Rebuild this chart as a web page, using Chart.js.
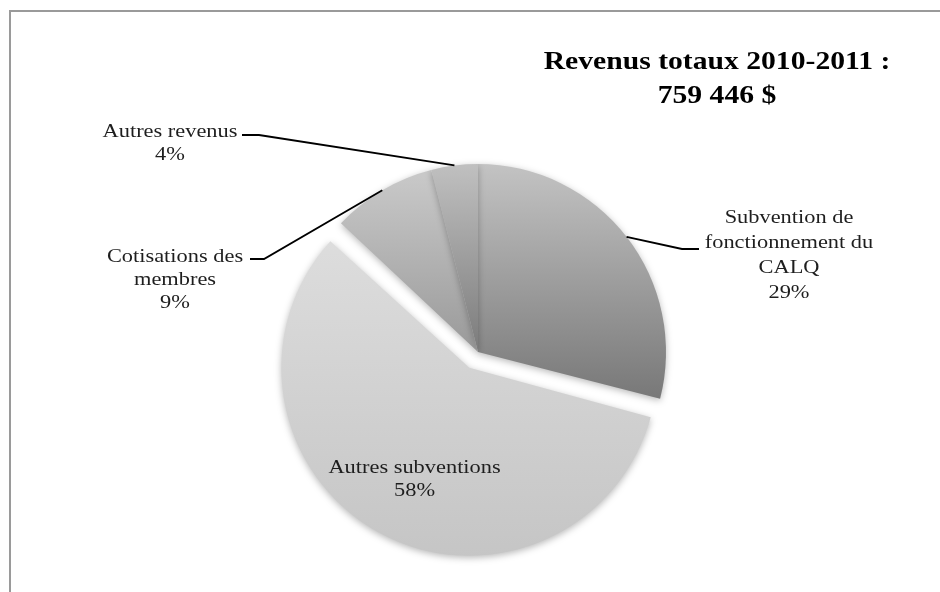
<!DOCTYPE html>
<html>
<head>
<meta charset="utf-8">
<script src="https://cdn.jsdelivr.net/npm/chart.js"></script>
<style>
  html, body { margin: 0; background: #fff; overflow: hidden; }
  #wrap { position: relative; width: 940px; height: 592px; overflow: hidden; }
  #frame { position: absolute; left: 9px; top: 10px; width: 960px; height: 620px;
           border-left: 2px solid #9a9a9a; border-top: 2px solid #9a9a9a; }
  #revenueChart { position: absolute; left: 0; top: 0; }
</style>
</head>
<body>
<div id="wrap">
  <div id="frame"></div>
  <canvas id="revenueChart" width="940" height="592"></canvas>
</div>
<script>
// data
const categories = ['Subvention de fonctionnement du CALQ', 'Autres subventions', 'Cotisations des membres', 'Autres revenus'];
const shares = [29, 58, 9, 4];
const labelLines = [['Subvention de', 'fonctionnement du', 'CALQ'], ['Autres subventions'], ['Cotisations des', 'membres'], ['Autres revenus']];
const titleLines = ['Revenus totaux 2010-2011 :', '759 446 $'];
const explodedIndex = 1;

// look
const EXPLODE = 18;          // px the big slice is pulled out
const STRETCH = 1.21;        // the source text is wide
const shades = [
  [[0, '#c3c3c3'], [0.65, '#717171'], [1, '#666666']],
  [[0.15, '#dddddd'], [1, '#c4c4c4']],
  [[0.03, '#c8c8c8'], [0.5, '#979797'], [1, '#8a8a8a']],
  [[0, '#c0c0c0'], [0.5, '#787878'], [1, '#707070']]
];
const callouts = [
  {elbow: [682, 249], end: [699, 249], x: 789, y: 223, lh: 25},
  null,
  {elbow: [264, 259], end: [250, 259], x: 175, y: 262, lh: 23},
  {elbow: [259, 135], end: [242, 135], x: 170, y: 137, lh: 23}
];

const sliceFill = (c) => {
  const {chart, dataIndex} = c;
  const area = chart.chartArea;
  if (!area) return '#cccccc';
  const cy = (area.top + area.bottom) / 2;
  const r = Math.min(area.width, area.height) / 2 - 2 * EXPLODE;
  const g = chart.ctx.createLinearGradient(0, cy - r, 0, cy + r + EXPLODE);
  shades[dataIndex].forEach(s => g.addColorStop(s[0], s[1]));
  return g;
};

const stretchText = (ctx, text, x, y, sx) => {
  ctx.save();
  ctx.translate(x, y);
  ctx.scale(sx || STRETCH, 1);
  ctx.fillText(text, 0, 0);
  ctx.restore();
};

// keep the pulled-out slice the same size as the others
const explodePlugin = {
  id: 'explode',
  afterDatasetUpdate(chart, args) {
    const arc = args.meta.data[explodedIndex];
    if (arc) arc.outerRadius -= EXPLODE;
  },
  beforeDatasetsDraw(chart) {
    const ctx = chart.ctx;
    ctx.save();
    ctx.shadowColor = 'rgba(0,0,0,0.28)';
    ctx.shadowBlur = 7;
    ctx.shadowOffsetY = 2;
  },
  afterDatasetsDraw(chart) {
    chart.ctx.restore();
  }
};

const labelPlugin = {
  id: 'labels',
  afterDraw(chart) {
    const ctx = chart.ctx;
    const arcs = chart.getDatasetMeta(0).data;
    const R = arcs[0].outerRadius;
    ctx.save();
    ctx.textAlign = 'center';
    ctx.textBaseline = 'alphabetic';

    // title
    ctx.fillStyle = '#000';
    ctx.font = 'bold 26px "Liberation Serif", "Times New Roman", serif';
    stretchText(ctx, titleLines[0], 717, 69, 1.14);
    stretchText(ctx, titleLines[1], 717, 103, 1.14);

    ctx.font = '18.5px "Liberation Serif", "Times New Roman", serif';
    arcs.forEach((arc, i) => {
      const mid = (arc.startAngle + arc.endAngle) / 2;
      const lines = labelLines[i].concat([shares[i] + '%']);
      const c = callouts[i];
      ctx.fillStyle = '#1e1e1e';
      if (!c) {
        const cx = arc.x + Math.cos(mid) * (EXPLODE + R * 0.66);
        const cy = arc.y + Math.sin(mid) * (EXPLODE + R * 0.66);
        const top = cy - (lines.length - 1) * 23 / 2 + 8;
        lines.forEach((t, k) => stretchText(ctx, t, cx + 5, top + k * 23));
        return;
      }
      ctx.strokeStyle = '#000';
      ctx.lineWidth = 1.8;
      ctx.beginPath();
      ctx.moveTo(arc.x + Math.cos(mid) * R, arc.y + Math.sin(mid) * R);
      ctx.lineTo(c.elbow[0], c.elbow[1]);
      ctx.lineTo(c.end[0], c.end[1]);
      ctx.stroke();
      lines.forEach((t, k) => stretchText(ctx, t, c.x, c.y + k * c.lh));
    });
    ctx.restore();
  }
};

const ctx = document.getElementById('revenueChart').getContext('2d');
new Chart(ctx, {
  type: 'pie',
  data: {
    labels: categories,
    datasets: [{
      data: shares,
      backgroundColor: sliceFill,
      borderWidth: 0,
      offset: shares.map((v, i) => i === explodedIndex ? EXPLODE * 4 : 0),
      hoverOffset: 0
    }]
  },
  options: {
    responsive: false,
    animation: false,
    events: [],
    layout: {padding: {top: 128, bottom: 16, left: 254, right: 238}},
    plugins: {
      legend: {display: false},
      title: {display: false},
      tooltip: {enabled: false}
    }
  },
  plugins: [explodePlugin, labelPlugin]
});
</script>
</body>
</html>
